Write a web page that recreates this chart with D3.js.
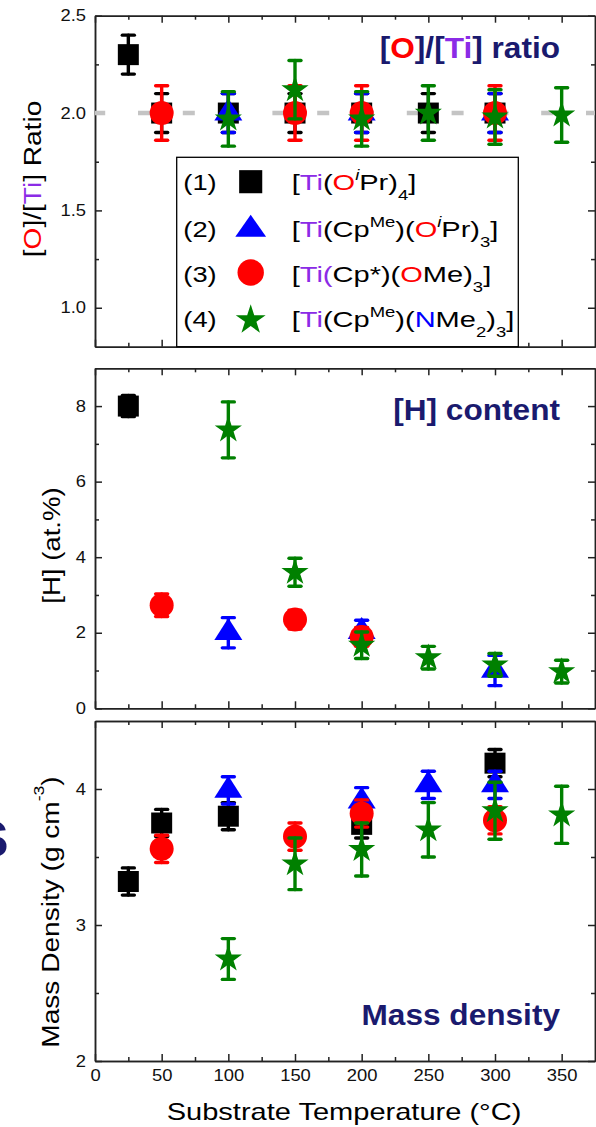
<!DOCTYPE html>
<html>
<head>
<meta charset="utf-8">
<script src="https://cdn.jsdelivr.net/npm/d3@7"></script>
<style>
  html, body { margin: 0; padding: 0; background: #fff; }
  svg { display: block; }
</style>
</head>
<body>
<svg id="fig" width="596" height="1127"></svg>
<script>
// ---------------- data ----------------
// substrate temperature axis (°C)
const xMajorTicks = [0, 50, 100, 150, 200, 250, 300, 350];
const xMinorTicks = [25, 75, 125, 175, 225, 275, 325];

// y ticks of the three panels
const ratioTicks = [1.0, 1.5, 2.0, 2.5];
const ratioMinor = [1.25, 1.75, 2.25];
const hTicks = [0, 2, 4, 6, 8];
const hMinor = [1, 3, 5, 7];
const densTicks = [2, 3, 4];
const densMinor = [2.5, 3.5];

// stoichiometric reference line
const ratioReference = 2.0;

// (1) [Ti(OiPr)4]
const p1RatioT = [25, 50, 100, 150, 200, 250, 300];
const p1RatioV = [2.30, 2.00, 2.00, 2.00, 2.00, 2.00, 2.00];
const p1RatioE = [0.10, 0.10, 0.10, 0.10, 0.10, 0.10, 0.10];
const p1HT = [25];
const p1HV = [8.00];
const p1HE = [0.28];
const p1DensT = [25, 50, 100, 200, 300];
const p1DensV = [3.32, 3.75, 3.80, 3.74, 4.19];
const p1DensE = [0.10, 0.10, 0.10, 0.10, 0.10];

// (2) [Ti(CpMe)(OiPr)3]
const p2RatioT = [100, 200, 300];
const p2RatioV = [2.00, 2.00, 2.00];
const p2RatioE = [0.10, 0.10, 0.10];
const p2HT = [100, 200, 300];
const p2HV = [2.00, 2.03, 1.00];
const p2HE = [0.40, 0.30, 0.40];
const p2DensT = [100, 200, 250, 300];
const p2DensV = [3.99, 3.91, 4.03, 4.03];
const p2DensE = [0.10, 0.10, 0.10, 0.10];

// (3) [Ti(Cp*)(OMe)3]
const p3RatioT = [50, 150, 200, 300];
const p3RatioV = [2.00, 2.00, 2.00, 2.00];
const p3RatioE = [0.14, 0.14, 0.14, 0.14];
const p3HT = [50, 150, 200];
const p3HV = [2.73, 2.35, 1.89];
const p3HE = [0.30, 0.25, 0.25];
const p3DensT = [50, 150, 200, 300];
const p3DensV = [3.56, 3.65, 3.82, 3.77];
const p3DensE = [0.10, 0.10, 0.10, 0.10];

// (4) [Ti(CpMe)(NMe2)3]
const p4RatioT = [100, 150, 200, 250, 300, 350];
const p4RatioV = [1.97, 2.12, 1.97, 2.00, 1.98, 1.99];
const p4RatioE = [0.14, 0.15, 0.14, 0.14, 0.14, 0.14];
const p4HT = [100, 150, 200, 250, 300, 350];
const p4HV = [7.37, 3.60, 1.67, 1.34, 1.15, 0.97];
const p4HE = [0.74, 0.37, 0.35, 0.30, 0.30, 0.30];
const p4DensT = [100, 150, 200, 250, 300, 350];
const p4DensV = [2.75, 3.45, 3.555, 3.70, 3.84, 3.81];
const p4DensE = [0.15, 0.19, 0.195, 0.20, 0.21, 0.21];

// ---------------- styling ----------------
const FONT = "'Liberation Sans', Arial, Helvetica, sans-serif";
const PURPLE = "#8b2be6";
const RED = "#ff0000";
const NAVY = "#1a1a6e";
const AXIS = "#222";

const precursors = [
  { id: 1, color: "#000000", shape: "square" },
  { id: 2, color: "#0000ff", shape: "triangle" },
  { id: 3, color: "#ff0000", shape: "circle" },
  { id: 4, color: "#008000", shape: "star" }
];

function zipSeries(t, v, e) { return t.map((d, i) => ({ t: d, v: v[i], e: e[i] })); }

const ratioData = [
  zipSeries(p1RatioT, p1RatioV, p1RatioE),
  zipSeries(p2RatioT, p2RatioV, p2RatioE),
  zipSeries(p3RatioT, p3RatioV, p3RatioE),
  zipSeries(p4RatioT, p4RatioV, p4RatioE)
];
const hData = [
  zipSeries(p1HT, p1HV, p1HE),
  zipSeries(p2HT, p2HV, p2HE),
  zipSeries(p3HT, p3HV, p3HE),
  zipSeries(p4HT, p4HV, p4HE)
];
const densData = [
  zipSeries(p1DensT, p1DensV, p1DensE),
  zipSeries(p2DensT, p2DensV, p2DensE),
  zipSeries(p3DensT, p3DensV, p3DensE),
  zipSeries(p4DensT, p4DensV, p4DensE)
];

// ---------------- marker shapes ----------------
function squarePath(s) { const h = s / 2; return `M${-h},${-h}H${h}V${h}H${-h}Z`; }
function trianglePath(w, h) { return `M0,${-2 * h / 3}L${w / 2},${h / 3}L${-w / 2},${h / 3}Z`; }
function circlePath(r) { return `M${r},0A${r},${r},0,1,1,${-r},0A${r},${r},0,1,1,${r},0Z`; }
function starPath(R) {
  const r = R * 0.382;
  const pts = [];
  for (let k = 0; k < 10; k++) {
    const a = -Math.PI / 2 + k * Math.PI / 5;
    const rad = k % 2 === 0 ? R : r;
    pts.push([rad * Math.cos(a), rad * Math.sin(a)]);
  }
  return "M" + pts.map(p => p[0].toFixed(2) + "," + p[1].toFixed(2)).join("L") + "Z";
}
function markerPath(shape, big) {
  const k = big ? 1.1 : 1;
  if (shape === "square") return squarePath(21 * k);
  if (shape === "triangle") return trianglePath(28 * k, 22);
  if (shape === "circle") return circlePath(12 * k);
  return starPath(14.3 * k);
}

// ---------------- helpers ----------------
const svg = d3.select("#fig");
svg.append("rect").attr("width", 596).attr("height", 1127).attr("fill", "#fff");

// text built from coloured / raised / lowered segments, stretched horizontally by sx
function richText(parent, segs, o) {
  const size = o.size;
  let tf = `translate(${o.x},${o.y})`;
  if (o.rotate) tf += ` rotate(${o.rotate})`;
  tf += ` scale(${o.sx || 1},1)`;
  const t = parent.append("text")
    .attr("transform", tf)
    .attr("font-family", FONT)
    .attr("font-size", size)
    .attr("font-weight", o.weight || "normal")
    .attr("text-anchor", o.anchor || "start")
    .attr("fill", o.fill || "#000");
  let shift = 0;
  segs.forEach(s => {
    const target = s.sup ? -(o.supRise || size * 0.45) : s.sub ? (o.subDrop || size * 0.45) : 0;
    const ts = t.append("tspan").text(s.t).attr("dy", target - shift);
    shift = target;
    if (s.sup || s.sub) ts.attr("font-size", o.smallSize || size * 0.62);
    if (s.c) ts.attr("fill", s.c);
    if (s.i) ts.attr("font-style", "italic");
  });
  return t;
}

const x = d3.scaleLinear().domain([0, 375]).range([95, 595]);
const X0 = 95, X1 = 595;

function styleAxis(g) {
  g.selectAll(".domain").attr("stroke", AXIS).attr("stroke-width", 1.5);
  g.selectAll(".tick line").attr("stroke", AXIS).attr("stroke-width", 1.5);
  g.selectAll(".tick text")
    .attr("font-family", FONT).attr("font-size", 16).attr("fill", "#111")
    .attr("transform", function () {
      const tx = +this.getAttribute("x") || 0;
      return `translate(${tx},0) scale(1.15,1) translate(${-tx},0)`;
    });
}

function drawFrame(y, major, minor, fmt, showX) {
  const [yb, yt] = y.range();
  const g = svg.append("g");
  // left
  g.append("g").attr("transform", `translate(${X0},0)`)
    .call(d3.axisLeft(y).tickValues(major).tickSizeInner(-7).tickSizeOuter(0).tickPadding(9).tickFormat(fmt))
    .call(styleAxis);
  g.append("g").attr("transform", `translate(${X0},0)`)
    .call(d3.axisLeft(y).tickValues(minor).tickSizeInner(-4).tickSizeOuter(0).tickFormat(""))
    .call(styleAxis);
  // right
  g.append("g").attr("transform", `translate(${X1},0)`)
    .call(d3.axisRight(y).tickValues(major).tickSizeInner(-7).tickSizeOuter(0).tickFormat(""))
    .call(styleAxis);
  g.append("g").attr("transform", `translate(${X1},0)`)
    .call(d3.axisRight(y).tickValues(minor).tickSizeInner(-4).tickSizeOuter(0).tickFormat(""))
    .call(styleAxis);
  // top
  g.append("g").attr("transform", `translate(0,${yt})`)
    .call(d3.axisTop(x).tickValues(xMajorTicks).tickSizeInner(-7).tickSizeOuter(0).tickFormat(""))
    .call(styleAxis);
  g.append("g").attr("transform", `translate(0,${yt})`)
    .call(d3.axisTop(x).tickValues(xMinorTicks).tickSizeInner(-4).tickSizeOuter(0).tickFormat(""))
    .call(styleAxis);
  // bottom
  g.append("g").attr("transform", `translate(0,${yb})`)
    .call(d3.axisBottom(x).tickValues(xMajorTicks).tickSizeInner(-7).tickSizeOuter(0).tickPadding(9)
      .tickFormat(showX ? d3.format("d") : ""))
    .call(styleAxis);
  g.append("g").attr("transform", `translate(0,${yb})`)
    .call(d3.axisBottom(x).tickValues(xMinorTicks).tickSizeInner(-4).tickSizeOuter(0).tickFormat(""))
    .call(styleAxis);
}

function drawSeries(y, data) {
  data.forEach((pts, si) => {
    const p = precursors[si];
    const g = svg.append("g");
    const eb = g.append("g").attr("stroke", p.color).attr("stroke-width", 3.4)
      .attr("stroke-linecap", "round").attr("fill", "none");
    pts.forEach(d => {
      const cx = x(d.t), y0 = y(d.v - d.e), y1 = y(d.v + d.e);
      eb.append("line").attr("x1", cx).attr("x2", cx).attr("y1", y0).attr("y2", y1);
      eb.append("line").attr("x1", cx - 6).attr("x2", cx + 6).attr("y1", y0).attr("y2", y0);
      eb.append("line").attr("x1", cx - 6).attr("x2", cx + 6).attr("y1", y1).attr("y2", y1);
    });
    g.selectAll("path.mk").data(pts).join("path").attr("class", "mk")
      .attr("d", markerPath(p.shape, false))
      .attr("transform", d => `translate(${x(d.t)},${y(d.v)})`)
      .attr("fill", p.color);
  });
}

// ---------------- panel 1: [O]/[Ti] ratio ----------------
const yRatio = d3.scaleLinear().domain([0.8, 2.5]).range([346.7, 15.7]);
drawFrame(yRatio, ratioTicks, ratioMinor, d3.format(".1f"), false);

svg.append("line")
  .attr("x1", X0).attr("x2", X1)
  .attr("y1", yRatio(ratioReference)).attr("y2", yRatio(ratioReference))
  .attr("stroke", "#c4c4c4").attr("stroke-width", 4.5)
  .attr("stroke-dasharray", "12,32.8").attr("stroke-dashoffset", 1.8);

drawSeries(yRatio, ratioData);

richText(svg, [
  { t: "[" }, { t: "O", c: RED }, { t: "]/[" }, { t: "Ti", c: PURPLE }, { t: "] Ratio" }
], { x: 41, y: 179, rotate: -90, size: 24, sx: 1.17, anchor: "middle" });

richText(svg, [
  { t: "[" }, { t: "O", c: RED }, { t: "]/[" }, { t: "Ti", c: PURPLE }, { t: "] ratio" }
], { x: 560, y: 58.3, size: 29, sx: 1.09, anchor: "end", weight: "bold", fill: NAVY });

// legend
const legend = svg.append("g");
legend.append("rect")
  .attr("x", 176.7).attr("y", 157.3).attr("width", 341.6).attr("height", 189.4)
  .attr("fill", "#fff").attr("stroke", "#000").attr("stroke-width", 1.3);

const legendRows = [
  [{ t: "[" }, { t: "Ti", c: PURPLE }, { t: "(" }, { t: "O", c: RED }, { t: "i", sup: true, i: true },
   { t: "Pr)" }, { t: "4", sub: true }, { t: "]" }],
  [{ t: "[" }, { t: "Ti", c: PURPLE }, { t: "(Cp" }, { t: "Me", sup: true }, { t: ")(" }, { t: "O", c: RED },
   { t: "i", sup: true, i: true }, { t: "Pr)" }, { t: "3", sub: true }, { t: "]" }],
  [{ t: "[" }, { t: "Ti(", c: PURPLE }, { t: "Cp*)(" }, { t: "O", c: RED }, { t: "Me)" }, { t: "3", sub: true },
   { t: "]" }],
  [{ t: "[" }, { t: "Ti", c: PURPLE }, { t: "(Cp" }, { t: "Me", sup: true }, { t: ")(" }, { t: "N", c: "#0000ff" },
   { t: "Me" }, { t: "2", sub: true }, { t: ")" }, { t: "3", sub: true }, { t: "]" }]
];
const legendBase = [190, 236.5, 281.5, 326.5];
const legendMarkY = [181.7, 229.5, 272.5, 320];
precursors.forEach((p, i) => {
  richText(legend, [{ t: `(${p.id})` }], { x: 183.3, y: legendBase[i], size: 22, sx: 1.24 });
  legend.append("path")
    .attr("d", markerPath(p.shape, true))
    .attr("transform", `translate(250.7,${legendMarkY[i]})`)
    .attr("fill", p.color);
  richText(legend, legendRows[i], {
    x: 291.7, y: legendBase[i], size: 22, sx: 1.32, smallSize: 14, supRise: 10, subDrop: 10
  });
});

// ---------------- panel 2: [H] content ----------------
const yH = d3.scaleLinear().domain([0, 9]).range([708.3, 368.3]);
drawFrame(yH, hTicks, hMinor, d3.format("d"), false);
drawSeries(yH, hData);

richText(svg, [{ t: "[H] (at.%)" }], { x: 60, y: 545.5, rotate: -90, size: 24, sx: 1.15, anchor: "middle" });
richText(svg, [{ t: "[H] content" }], {
  x: 560, y: 420, size: 29, sx: 1.09, anchor: "end", weight: "bold", fill: NAVY
});

// ---------------- panel 3: mass density ----------------
const yD = d3.scaleLinear().domain([2, 4.5]).range([1061, 721]);
drawFrame(yD, densTicks, densMinor, d3.format("d"), true);
drawSeries(yD, densData);

richText(svg, [{ t: "Mass Density (g cm" }, { t: "-3", sup: true }, { t: ")" }], {
  x: 59.3, y: 912, rotate: -90, size: 24, sx: 1.17, anchor: "middle", smallSize: 15, supRise: 15
});
richText(svg, [{ t: "Mass density" }], {
  x: 560, y: 1025, size: 29, sx: 1.09, anchor: "end", weight: "bold", fill: NAVY
});

// x axis title
richText(svg, [{ t: "Substrate Temperature (°C)" }], {
  x: 344, y: 1120, size: 24, sx: 1.21, anchor: "middle"
});

// edge of the neighbouring panel's bold label
svg.append("text")
  .attr("x", -28.4).attr("y", 857)
  .attr("font-family", FONT).attr("font-weight", "bold").attr("font-size", 68)
  .attr("fill", NAVY).text("s");
</script>
</body>
</html>
